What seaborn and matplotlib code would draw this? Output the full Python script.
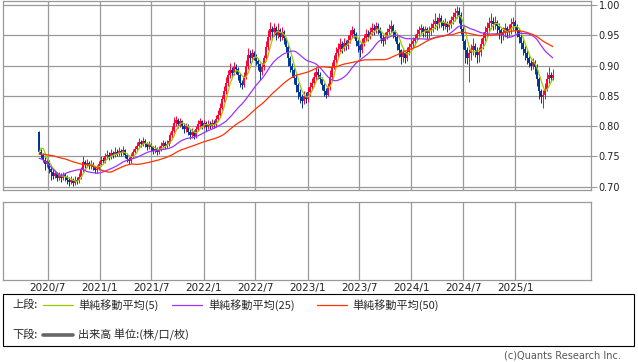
import matplotlib
matplotlib.use("Agg")
import matplotlib.pyplot as plt
from matplotlib.lines import Line2D
from matplotlib.patches import Rectangle
import numpy as np
import pandas as pd
import seaborn as sns

# weekly bars, first visible week 2020-06-01
START = "2020-06-01"

# closes of the weeks before the visible range (only feed the moving averages),
# estimated from where the MA25 / MA50 lines start
prior_closes = [
    0.752, 0.758, 0.763, 0.760, 0.755, 0.750, 0.756, 0.762, 0.768, 0.765,
    0.759, 0.754, 0.757, 0.763, 0.769, 0.772, 0.766, 0.761, 0.758, 0.764,
    0.770, 0.767, 0.760, 0.755, 0.762,
    0.775, 0.788, 0.800, 0.812, 0.808, 0.815, 0.805, 0.798, 0.790, 0.789,
    0.745, 0.700, 0.668, 0.672, 0.685, 0.678, 0.690, 0.684, 0.695, 0.696,
    0.715, 0.748, 0.772, 0.790,
]

closes = [
    0.757, 0.752, 0.745, 0.738, 0.742, 0.730, 0.725, 0.718, 0.722, 0.715,
    0.719, 0.714, 0.720, 0.716, 0.712, 0.708, 0.711, 0.706, 0.712, 0.709,
    0.716, 0.728, 0.741, 0.736, 0.740, 0.734, 0.738, 0.732, 0.727, 0.730,
    0.738, 0.745, 0.742, 0.750, 0.753, 0.749, 0.755, 0.752, 0.758, 0.754,
    0.759, 0.756, 0.761, 0.752, 0.746, 0.742, 0.750, 0.758, 0.762, 0.768,
    0.774, 0.770, 0.776, 0.771, 0.766, 0.770, 0.765, 0.759, 0.763, 0.757,
    0.762, 0.768, 0.772, 0.767, 0.771, 0.776, 0.785, 0.792, 0.806, 0.810,
    0.803, 0.808, 0.801, 0.796, 0.800, 0.791, 0.786, 0.790, 0.784, 0.795,
    0.803, 0.808, 0.800, 0.805, 0.798, 0.804, 0.800, 0.806, 0.802, 0.812,
    0.818, 0.830, 0.845, 0.858, 0.872, 0.885, 0.893, 0.888, 0.898, 0.894,
    0.885, 0.872, 0.868, 0.882, 0.900, 0.918, 0.912, 0.920, 0.915, 0.908,
    0.902, 0.890, 0.898, 0.912, 0.930, 0.948, 0.960, 0.955, 0.962, 0.950,
    0.958, 0.948, 0.955, 0.945, 0.930, 0.912, 0.900, 0.892, 0.880, 0.868,
    0.857, 0.848, 0.842, 0.850, 0.845, 0.856, 0.865, 0.872, 0.882, 0.890,
    0.885, 0.878, 0.868, 0.858, 0.852, 0.864, 0.882, 0.898, 0.910, 0.920,
    0.928, 0.935, 0.928, 0.937, 0.932, 0.942, 0.950, 0.958, 0.952, 0.940,
    0.932, 0.925, 0.938, 0.945, 0.952, 0.948, 0.955, 0.962, 0.958, 0.966,
    0.960, 0.953, 0.945, 0.940, 0.948, 0.955, 0.960, 0.965, 0.955, 0.948,
    0.935, 0.925, 0.914, 0.920, 0.912, 0.922, 0.930, 0.936, 0.940, 0.945,
    0.952, 0.958, 0.962, 0.955, 0.960, 0.953, 0.958, 0.962, 0.968, 0.974,
    0.968, 0.978, 0.972, 0.966, 0.970, 0.963, 0.968, 0.975, 0.980, 0.986,
    0.990, 0.984, 0.960, 0.940, 0.925, 0.912, 0.920, 0.925, 0.932, 0.926,
    0.918, 0.922, 0.935, 0.946, 0.955, 0.962, 0.970, 0.974, 0.968, 0.972,
    0.965, 0.958, 0.950, 0.956, 0.962, 0.955, 0.960, 0.968, 0.972, 0.965,
    0.958, 0.948, 0.938, 0.928, 0.920, 0.912, 0.905, 0.900, 0.906, 0.898,
    0.878, 0.858, 0.848, 0.852, 0.862, 0.878, 0.885, 0.880, 0.884,
]

highs = [
    0.792, 0.762, 0.756, 0.749, 0.748, 0.745, 0.735, 0.730, 0.728, 0.725,
    0.724, 0.722, 0.725, 0.723, 0.720, 0.716, 0.717, 0.714, 0.718, 0.716,
    0.722, 0.733, 0.751, 0.745, 0.746, 0.743, 0.744, 0.741, 0.735, 0.736,
    0.743, 0.750, 0.749, 0.756, 0.760, 0.757, 0.762, 0.759, 0.765, 0.762,
    0.765, 0.762, 0.767, 0.763, 0.755, 0.749, 0.755, 0.763, 0.768, 0.774,
    0.780, 0.778, 0.782, 0.779, 0.774, 0.776, 0.773, 0.768, 0.769, 0.766,
    0.768, 0.774, 0.778, 0.775, 0.777, 0.782, 0.790, 0.800, 0.815, 0.816,
    0.814, 0.814, 0.811, 0.805, 0.806, 0.803, 0.795, 0.797, 0.793, 0.800,
    0.810, 0.814, 0.811, 0.811, 0.808, 0.810, 0.808, 0.812, 0.810, 0.818,
    0.826, 0.838, 0.852, 0.866, 0.882, 0.893, 0.905, 0.898, 0.906, 0.903,
    0.898, 0.888, 0.876, 0.890, 0.910, 0.929, 0.925, 0.927, 0.924, 0.919,
    0.912, 0.905, 0.905, 0.918, 0.940, 0.958, 0.972, 0.966, 0.970, 0.966,
    0.970, 0.962, 0.963, 0.958, 0.948, 0.934, 0.916, 0.905, 0.896, 0.884,
    0.872, 0.862, 0.853, 0.858, 0.856, 0.864, 0.873, 0.880, 0.890, 0.898,
    0.896, 0.889, 0.882, 0.872, 0.863, 0.872, 0.892, 0.906, 0.918, 0.930,
    0.937, 0.945, 0.940, 0.946, 0.943, 0.950, 0.958, 0.966, 0.962, 0.955,
    0.944, 0.936, 0.945, 0.952, 0.960, 0.958, 0.963, 0.970, 0.968, 0.972,
    0.970, 0.963, 0.956, 0.950, 0.955, 0.962, 0.968, 0.976, 0.968, 0.958,
    0.952, 0.939, 0.928, 0.927, 0.924, 0.930, 0.938, 0.944, 0.947, 0.952,
    0.960, 0.966, 0.968, 0.966, 0.966, 0.964, 0.966, 0.970, 0.977, 0.987,
    0.980, 0.986, 0.984, 0.976, 0.978, 0.974, 0.975, 0.982, 0.988, 0.995,
    0.999, 0.996, 0.988, 0.964, 0.944, 0.930, 0.928, 0.935, 0.946, 0.938,
    0.930, 0.930, 0.945, 0.955, 0.965, 0.972, 0.980, 0.987, 0.980, 0.982,
    0.976, 0.970, 0.962, 0.964, 0.970, 0.966, 0.968, 0.978, 0.980, 0.976,
    0.968, 0.962, 0.952, 0.942, 0.932, 0.925, 0.916, 0.910, 0.912, 0.910,
    0.902, 0.882, 0.862, 0.860, 0.872, 0.890, 0.898, 0.890, 0.895,
]

lows = [
    0.754, 0.748, 0.741, 0.728, 0.733, 0.722, 0.712, 0.713, 0.714, 0.710,
    0.712, 0.708, 0.711, 0.709, 0.705, 0.702, 0.704, 0.701, 0.703, 0.704,
    0.706, 0.713, 0.725, 0.731, 0.733, 0.729, 0.730, 0.727, 0.722, 0.723,
    0.727, 0.735, 0.737, 0.739, 0.746, 0.744, 0.746, 0.747, 0.749, 0.750,
    0.751, 0.750, 0.752, 0.748, 0.741, 0.738, 0.740, 0.747, 0.755, 0.759,
    0.765, 0.766, 0.767, 0.766, 0.761, 0.763, 0.759, 0.754, 0.756, 0.752,
    0.754, 0.759, 0.764, 0.762, 0.764, 0.768, 0.773, 0.781, 0.789, 0.800,
    0.797, 0.799, 0.795, 0.789, 0.791, 0.785, 0.779, 0.781, 0.779, 0.781,
    0.792, 0.799, 0.795, 0.797, 0.792, 0.795, 0.795, 0.797, 0.797, 0.799,
    0.808, 0.815, 0.826, 0.840, 0.853, 0.867, 0.880, 0.880, 0.884, 0.886,
    0.877, 0.864, 0.861, 0.865, 0.878, 0.895, 0.905, 0.906, 0.909, 0.901,
    0.893, 0.876, 0.884, 0.893, 0.908, 0.925, 0.942, 0.946, 0.949, 0.943,
    0.946, 0.940, 0.943, 0.936, 0.922, 0.900, 0.890, 0.882, 0.870, 0.856,
    0.845, 0.838, 0.830, 0.836, 0.838, 0.840, 0.850, 0.860, 0.867, 0.876,
    0.878, 0.872, 0.860, 0.850, 0.847, 0.849, 0.860, 0.878, 0.894, 0.905,
    0.914, 0.922, 0.920, 0.924, 0.926, 0.928, 0.937, 0.945, 0.945, 0.932,
    0.922, 0.914, 0.921, 0.933, 0.940, 0.941, 0.944, 0.950, 0.951, 0.953,
    0.952, 0.946, 0.938, 0.933, 0.935, 0.944, 0.950, 0.954, 0.946, 0.940,
    0.926, 0.915, 0.903, 0.906, 0.905, 0.908, 0.917, 0.925, 0.930, 0.934,
    0.940, 0.946, 0.950, 0.947, 0.948, 0.944, 0.946, 0.950, 0.955, 0.960,
    0.958, 0.962, 0.963, 0.958, 0.960, 0.955, 0.958, 0.962, 0.969, 0.974,
    0.978, 0.970, 0.952, 0.928, 0.905, 0.903, 0.873, 0.910, 0.918, 0.915,
    0.905, 0.906, 0.916, 0.928, 0.940, 0.948, 0.955, 0.960, 0.958, 0.960,
    0.952, 0.944, 0.938, 0.943, 0.948, 0.946, 0.948, 0.952, 0.958, 0.954,
    0.948, 0.938, 0.928, 0.918, 0.910, 0.903, 0.897, 0.892, 0.895, 0.886,
    0.866, 0.845, 0.838, 0.830, 0.845, 0.858, 0.872, 0.874, 0.876,
]

ma_windows = [5, 25, 50]
ma_colors = ["#99cc00", "#9933ff", "#ff3300"]
ma_labels = ["単純移動平均(5)", "単純移動平均(25)", "単純移動平均(50)"]

tick_dates = ["2020-07-01", "2021-01-01", "2021-07-01", "2022-01-01", "2022-07-01",
              "2023-01-01", "2023-07-01", "2024-01-01", "2024-07-01", "2025-01-01"]
tick_labels = ["2020/7", "2021/1", "2021/7", "2022/1", "2022/7",
               "2023/1", "2023/7", "2024/1", "2024/7", "2025/1"]
y_ticks = [0.70, 0.75, 0.80, 0.85, 0.90, 0.95, 1.00]

UP = "#ff0033"
DOWN = "#003399"
GRID = "#999999"

W, H = 638, 362


def fx(px):
    return px / W


def fy(py):
    return 1 - py / H


def main() -> None:
    sns.set_theme(style="white")
    plt.rcParams["font.family"] = ["DejaVu Sans", "Noto Sans CJK JP"]
    cjk = ["Noto Sans CJK JP", "DejaVu Sans"]

    n_prior = len(prior_closes)
    all_close = pd.Series(prior_closes + closes)
    dates = pd.date_range(START, periods=len(closes), freq="W-MON")
    df = pd.DataFrame({"date": dates, "close": closes, "high": highs, "low": lows})
    df["open"] = all_close.shift(1).iloc[n_prior:].to_numpy()
    for w in ma_windows:
        df[f"ma{w}"] = all_close.rolling(w, min_periods=1).mean().iloc[n_prior:].to_numpy()

    fig = plt.figure(figsize=(W / 100, H / 100), dpi=100)
    ax = fig.add_axes([fx(3), fy(190), fx(590.5) - fx(3), fy(1) - fy(190)])
    axv = fig.add_axes([fx(3), fy(280), fx(590.5) - fx(3), fy(202) - fy(280)])

    xmin = pd.Timestamp("2020-01-26")
    xmax = pd.Timestamp("2025-09-22")
    ticks = pd.to_datetime(tick_dates)

    # candles
    up = df["close"] >= df["open"]
    cols = np.where(up, UP, DOWN)
    body_lo = np.minimum(df["open"], df["close"])
    body_hi = np.maximum(df["open"], df["close"])
    ax.vlines(df["date"], df["low"], df["high"], colors=cols, lw=0.7, zorder=3)
    ax.vlines(df["date"], body_lo, body_hi, colors=cols, lw=1.4, zorder=3)

    # moving averages
    for w, c in zip(ma_windows, ma_colors):
        sns.lineplot(data=df, x="date", y=f"ma{w}", ax=ax, color=c, lw=0.9, zorder=4)

    ax.set_xlim(xmin, xmax)
    ax.set_ylim(0.6947, 1.0066)
    ax.set_xticks(ticks)
    ax.set_xticklabels([])
    ax.tick_params(axis="x", length=0)
    ax.set_yticks(y_ticks)
    ax.set_yticklabels([f"{v:.2f}" for v in y_ticks])
    ax.yaxis.tick_right()
    ax.tick_params(axis="y", length=4, width=0.8, color=GRID, pad=2,
                   labelsize=7, labelcolor="#222222")
    ax.grid(True, color=GRID, lw=0.9)
    ax.set_xlabel("")
    ax.set_ylabel("")
    for s in ax.spines.values():
        s.set_color(GRID)
        s.set_linewidth(0.9)

    # lower (volume) panel, empty
    axv.set_xlim(xmin, xmax)
    axv.set_ylim(0, 1)
    axv.set_xticks(ticks)
    axv.set_xticklabels(tick_labels, fontsize=7.5, color="#222222")
    axv.set_yticks([])
    axv.tick_params(axis="x", length=0, pad=2.5)
    axv.grid(True, axis="x", color=GRID, lw=0.9)
    for s in axv.spines.values():
        s.set_color(GRID)
        s.set_linewidth(0.9)

    # legend box
    fig.add_artist(Rectangle((fx(3), fy(346)), fx(634) - fx(3), fy(294) - fy(346),
                             transform=fig.transFigure, fill=False,
                             edgecolor="black", lw=0.8))
    y1, y2 = fy(305), fy(335)
    fig.text(fx(12), y1, "上段:", fontsize=8, va="center", family=cjk)
    fig.text(fx(12), y2, "下段:", fontsize=8, va="center", family=cjk)
    line_x = [(43, 73), (172, 202), (317, 347)]
    text_x = [78, 208, 352]
    for (a, b), tx, c, lab in zip(line_x, text_x, ma_colors, ma_labels):
        fig.add_artist(Line2D([fx(a), fx(b)], [y1, y1], color=c, lw=0.9,
                              transform=fig.transFigure))
        fig.text(fx(tx), y1, lab, fontsize=8, va="center", family=cjk)
    fig.add_artist(Line2D([fx(43), fx(73)], [y2, y2], color="#666666", lw=2.6,
                          transform=fig.transFigure))
    fig.text(fx(78), y2, "出来高 単位:(株/口/枚)", fontsize=8, va="center", family=cjk)

    fig.text(fx(621), fy(356), "(c)Quants Research Inc.", fontsize=7,
             ha="right", va="center", color="#555555")

    fig.savefig("out.png", dpi=100)
    plt.close(fig)


if __name__ == "__main__":
    main()
